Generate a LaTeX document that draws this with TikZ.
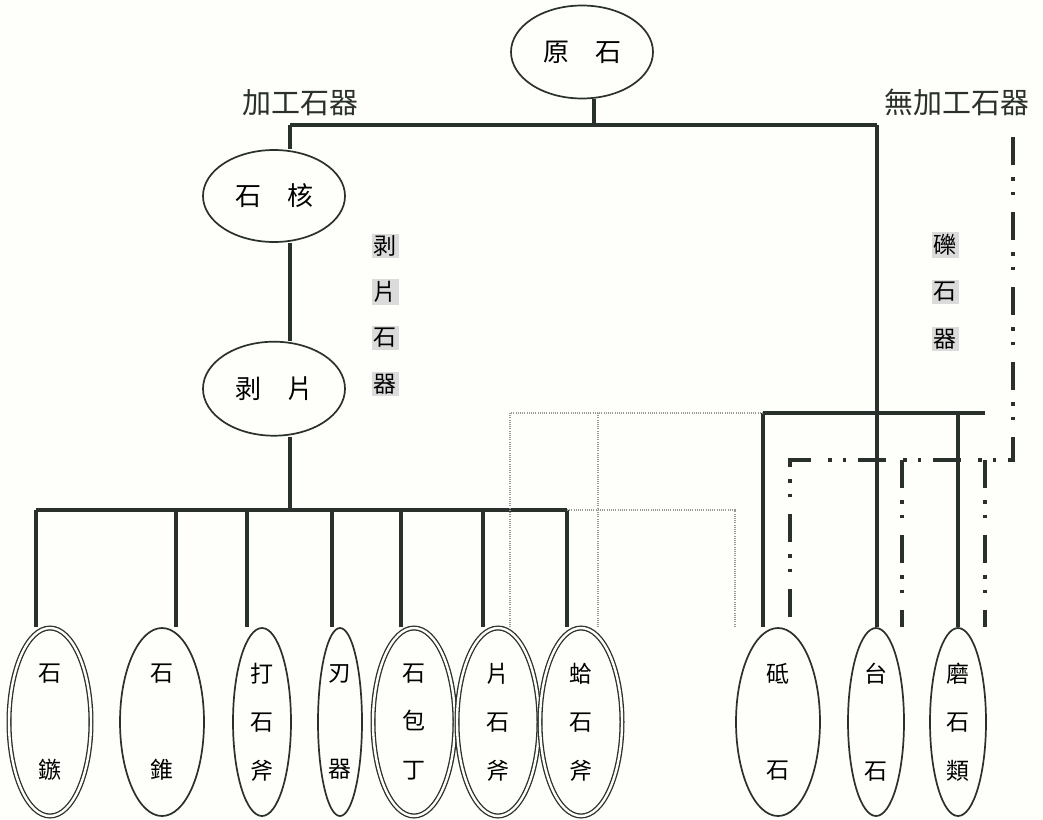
\documentclass[tikz,border=0pt]{standalone}
\usepackage{fontspec}
\setmainfont{Noto Sans CJK TC}
\usetikzlibrary{positioning,shapes.geometric}
\definecolor{ink}{HTML}{2A302B}
\definecolor{paper}{HTML}{FEFEFA}
\tikzset{
  oval/.style={ellipse, draw=ink, line width=1.7pt, inner sep=0pt, font=\fontsize{26}{26}\selectfont},
  tool/.style={ellipse, draw=ink, line width=1.7pt, inner sep=0pt, minimum height=188pt, align=center, font=\fontsize{23}{48.5}\selectfont},
  dbl/.style={double=paper, double distance=2.4pt, line width=1.3pt},
  kind/.style={font=\fontsize{29}{29}\selectfont, text=ink},
  tag/.style={fill=gray!28, inner sep=2pt, font=\fontsize{23}{23}\selectfont},
  tie/.style={line width=3.3pt, ink},
  dots/.style={line width=1.3pt, gray!80, dash pattern=on 1pt off 1.2pt},
  chain/.style={line width=3.3pt, ink, dash pattern=on 28pt off 12pt on 3.5pt off 11pt on 3.5pt off 17pt},
}
\begin{document}
\begin{tikzpicture}[x=1pt, y=-1pt]
\fill[paper] (0,0) rectangle (1043,819);
\useasboundingbox (0,0) rectangle (1043,819);

%% ---- la pierre brute et ses deux branches
\node[oval, minimum width=142pt, minimum height=93pt] (genseki) at (582,52) {原　石};
\node[kind] (kakou) at (300,103) {加工石器};
\node[kind] (mukakou) at (957,102) {無加工石器};

%% ---- noyau et eclat
\node[oval, minimum width=142pt, minimum height=92pt] (kaku) at (274,196) {石　核};
\node[oval, minimum width=142pt, minimum height=94pt, below=98pt of kaku] (hahen) {剥　片};

%% ---- les deux etiquettes grisees
\foreach \c [count=\i] in {剥,片,石,器}
  \node[tag] (hk\i) at (385,200+46*\i) {\c};
\foreach \c [count=\i] in {礫,石,器}
  \node[tag] (rk\i) at (945,198+47*\i) {\c};

%% ---- la rangee des outils
\node[tool, dbl, minimum width=82pt] (zoku)   at (50,722)  {石\\[48pt]鏃};
\node[tool, minimum width=84pt]      (sui)    at (162,722) {石\\[48pt]錐};
\node[tool, minimum width=58pt]      (dafu)   at (262,722) {打\\石\\斧};
\node[tool, minimum width=44pt]      (jin)    at (340,722) {刃\\[48pt]器};
\node[tool, dbl, minimum width=82pt] (hocho)  at (414,722) {石\\包\\丁};
\node[tool, dbl, minimum width=82pt] (henfu)  at (498,722) {片\\石\\斧};
\node[tool, dbl, minimum width=82pt] (hamafu) at (581,722) {蛤\\石\\斧};
\node[tool, minimum width=84pt]      (toi)    at (778,722) {砥\\[48pt]石};
\node[tool, minimum width=56pt]      (dai)    at (876,722) {台\\[48pt]石};
\node[tool, minimum width=56pt]      (ma)     at (958,722) {磨\\石\\類};

%% ---- le tronc
\coordinate (tl) at (290,125);
\coordinate (tg) at (594,125);
\coordinate (tr) at (877,125);
\draw[tie] (tg) -- (tg |- genseki.south);
\draw[tie] (tl) -- (tr);
\draw[tie] (tl) -- (tl |- kaku.north);
\draw[tie] (kaku.south -| tl) -- (hahen.north -| tl);

%% ---- branche gauche : les eclats
\coordinate (lb) at (290,510);
\draw[tie] (hahen.south -| lb) -- (lb);
\foreach \x/\n [count=\i] in {36/zoku,176/sui,247/dafu,332/jin,401/hocho,483/henfu,567/hamafu} {
  \coordinate (s\i) at (\x,510);
  \draw[tie] (s\i) -- (s\i |- \n.north);
}
\draw[tie] (s1) -- (s7);

%% ---- branche droite : les galets
\coordinate (rb1) at (763,413);
\coordinate (rb2) at (958,413);
\coordinate (rb3) at (985,413);
\draw[tie] (tr) -- (tr |- dai.north);
\draw[tie] (rb1) -- (rb3);
\draw[tie] (rb1) -- (rb1 |- toi.north);
\draw[tie] (rb2) -- (rb2 |- ma.north);

%% ---- les liens pointilles
\coordinate (d1) at (510,413);
\coordinate (d2) at (598,413);
\coordinate (d3) at (735,510);
\draw[dots] (rb1) -- (d1) -- (d1 |- henfu.north);
\draw[dots] (d2) -- (d2 |- hamafu.north);
\draw[dots] (s7) -- (d3) -- (d3 |- toi.north);

%% ---- le trait mixte des pierres sans travail
\coordinate (c0) at (1013,137);
\coordinate (c1) at (790,460);
\coordinate (c2) at (902,460);
\coordinate (c3) at (985,460);
\draw[chain] (c0) |- (c1) -- (c1 |- toi.north);
\draw[chain] (c2) -- (c2 |- dai.north);
\draw[chain] (c3) -- (c3 |- ma.north);
\end{tikzpicture}
\end{document}
